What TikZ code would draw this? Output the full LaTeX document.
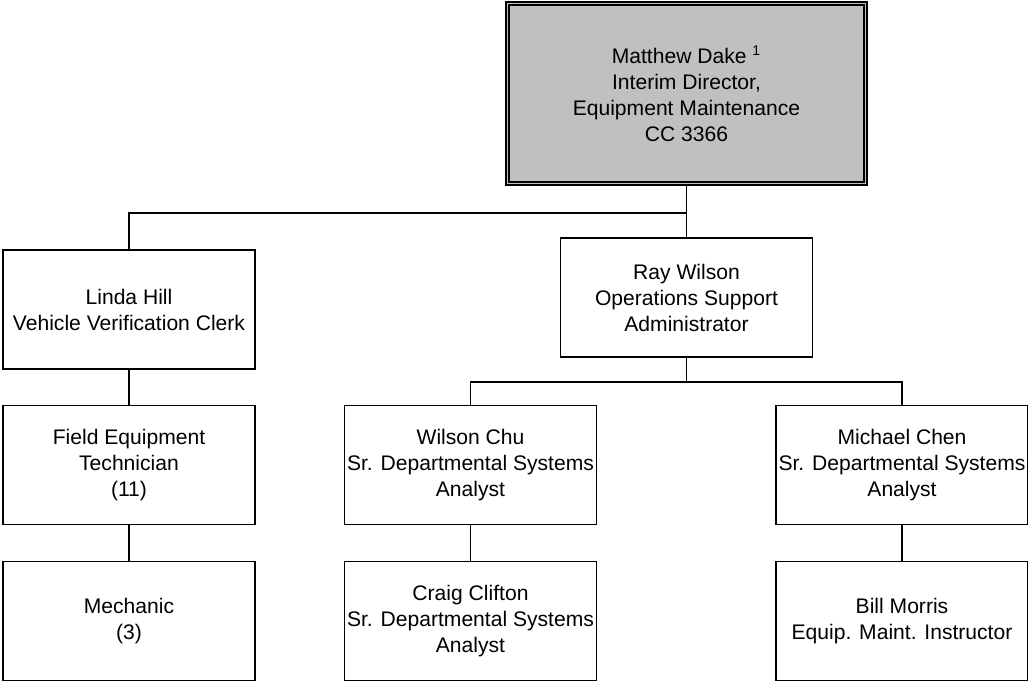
\documentclass[tikz,border=0pt]{standalone}
\usepackage{fontspec}
\setmainfont{Liberation Sans}
\usetikzlibrary{calc,positioning}

\definecolor{boxgray}{HTML}{C0C0C0}

\begin{document}
\begin{tikzpicture}[post/.style={draw, line width=1pt, align=center, inner sep=0pt,
    minimum width=5.04cm, minimum height=2.38cm, font=\fontsize{12}{14.8}\selectfont},
 head/.style={post, fill=boxgray, line width=1.3pt, minimum width=7.22cm, minimum height=3.66cm},
 link/.style={line width=1pt}]

    %\draw (0,0) grid (21,14);
    \useasboundingbox (0,0) rectangle (20.56,13.66);

    \coordinate (bus1) at (0,9.40);
    \coordinate (bus2) at (0,6.02);

    \node[head] (dake) at (13.73,11.79)
	    {Matthew Dake \textsuperscript{1}\\Interim Director,\\Equipment Maintenance\\CC 3366};
    \draw[line width=1pt] ($(dake.south west)+(0.09,0.09)$) rectangle ($(dake.north east)-(0.09,0.09)$);

    \node[post] (hill) at (2.58,7.47) {Linda Hill\\Vehicle Verification Clerk};
    \node[post] (wilson) at (13.73,7.71) {Ray Wilson\\Operations Support\\Administrator};

    \node[post] (field) at (2.58,4.36) {Field Equipment\\Technician\\(11)};
    \node[post] (chu) at (9.41,4.36) {Wilson Chu\\Sr. Departmental Systems\\Analyst};
    \node[post] (chen) at (18.04,4.36) {Michael Chen\\Sr. Departmental Systems\\Analyst};

    \node[post] (mech) at (2.58,1.24) {Mechanic\\(3)};
    \node[post] (clifton) at (9.41,1.24) {Craig Clifton\\Sr. Departmental Systems\\Analyst};
    \node[post] (morris) at (18.04,1.24) {Bill Morris\\Equip. Maint. Instructor};

	\draw[link] (dake.south) -- (dake.south |- bus1) -| (hill.north);
	\draw[link] (dake.south |- bus1) -- (wilson.north);
	\draw[link] (wilson.south) -- (wilson.south |- bus2) -| (chu.north);
	\draw[link] (wilson.south |- bus2) -| (chen.north);

	\draw[link] (hill) -- (field);
	\draw[link] (field) -- (mech);
	\draw[link] (chu) -- (clifton);
	\draw[link] (chen) -- (morris);

\end{tikzpicture}
\end{document}
